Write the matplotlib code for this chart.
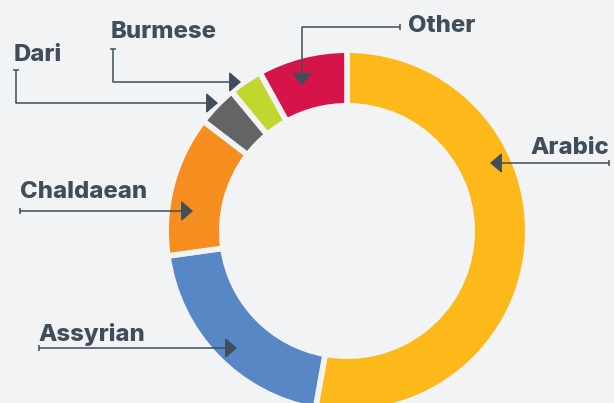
import matplotlib.pyplot as plt

W, H = 614, 403
DPI = 100

# data
languages = ["Arabic", "Assyrian", "Chaldaean", "Dari", "Burmese", "Other"]
shares = [52.8, 20.0, 12.6, 3.6, 3.0, 8.0]
colors = ["#FDB81A", "#5787C5", "#F68D1F", "#636466", "#C2D72E", "#D51449"]

BG = "#F2F3F5"
INK = "#3F4E59"

# label text position (x, baseline y) and leader path, all in image pixels (y down)
label_pos = {
    "Arabic": (530, 154),
    "Other": (408, 32),
    "Burmese": (111, 38),
    "Dari": (14, 61),
    "Chaldaean": (20, 198),
    "Assyrian": (38, 341),
}
leaders = {
    "Arabic": [(609, 163), (490, 163)],
    "Other": [(400, 27), (302, 27), (302, 85)],
    "Burmese": [(113, 49), (113, 82), (241, 82)],
    "Dari": [(16, 70), (16, 103), (218, 103)],
    "Chaldaean": [(20, 211), (193, 211)],
    "Assyrian": [(39, 348), (237, 348)],
}


def px(p):
    # image pixels -> data coords (y up)
    return p[0], H - p[1]


fig = plt.figure(figsize=(W / DPI, H / DPI), dpi=DPI, facecolor=BG)
ax = fig.add_axes([0, 0, 1, 1])
ax.set_facecolor(BG)

gap = 5.7  # px between wedges
lw = gap * 72 / DPI
outer, inner = 178 + gap / 2, 128 - gap / 2
ax.pie(shares, colors=colors, startangle=90, counterclock=False,
       radius=outer, center=px((347, 231)), frame=True,
       wedgeprops=dict(width=outer - inner, edgecolor=BG, linewidth=lw))

for name in languages:
    tx, ty = px(label_pos[name])
    ax.text(tx, ty, name, fontsize=17.2, fontweight="heavy", family="Inter",
            color=INK, va="baseline", ha="left")

    pts = [px(p) for p in leaders[name]]
    xs = [p[0] for p in pts[:-1]]
    ys = [p[1] for p in pts[:-1]]
    ax.plot(xs, ys, color=INK, lw=1.1, solid_capstyle="butt")
    # little end cap at the start of the leader
    horiz = pts[0][1] == pts[1][1]
    ax.plot(pts[0][0], pts[0][1], marker="|" if horiz else "_",
            markersize=5, markeredgewidth=1.1, color=INK)
    ax.annotate("", xy=pts[-1], xytext=pts[-2],
                arrowprops=dict(arrowstyle="-|>,head_length=0.72,head_width=0.62",
                                color=INK, lw=1.1, shrinkA=0, shrinkB=0,
                                mutation_scale=10))

ax.set_xlim(0, W)
ax.set_ylim(0, H)
ax.set_aspect("auto")
ax.axis("off")

fig.savefig("out.png", dpi=DPI, facecolor=BG)
